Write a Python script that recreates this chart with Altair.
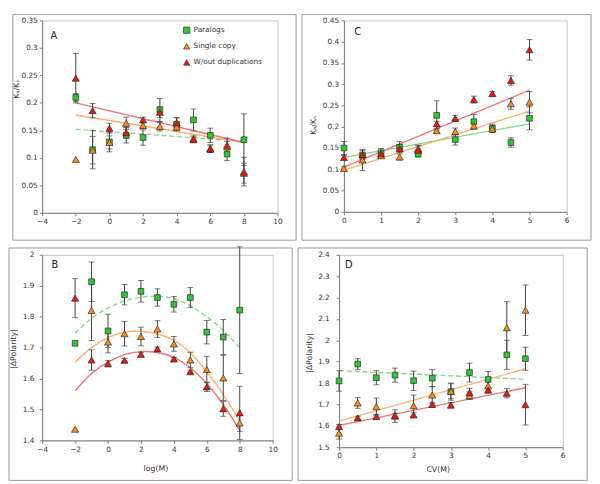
import altair as alt
import pandas as pd

SERIES = ["Paralogs", "Single copy", "W/out duplications"]
MARK_FILL = ["#33c433", "#ff8c1a", "#e8180c"]
MARK_SHAPE = ["square", "triangle-up", "triangle-up"]
FIT_COLOR = ["#86d886", "#ffb070", "#f27474"]
FONT = "DejaVu Sans"
TXT = "#333333"
AXC = "#7a7a7a"
ERRC = "#404040"
FRAMEC = "#9a9a9a"

# ---------------- Panel A : Ka/Ks vs log(M) ----------------
A_x = [-2, -1, 0, 1, 2, 3, 4, 5, 6, 7, 8]
A_par = [0.210, 0.115, 0.129, 0.141, 0.137, 0.187, 0.161, 0.169, 0.141, 0.107, 0.133]
A_par_err = [0.007, 0.035, 0.018, 0.014, 0.014, 0.021, 0.012, 0.020, 0.013, 0.012, 0.047]
A_sin = [0.097, 0.114, 0.128, 0.163, 0.159, 0.157, 0.156, 0.135, 0.117, 0.120, 0.075]
A_sin_err = [0.0, 0.025, 0.012, 0.011, 0.006, 0.008, 0.006, 0.005, 0.007, 0.010, 0.026]
A_wo = [0.245, 0.186, 0.154, 0.146, 0.169, 0.183, 0.164, 0.133, 0.116, 0.123, 0.072]
A_wo_err = [0.045, 0.013, 0.009, 0.010, 0.005, 0.010, 0.009, 0.005, 0.006, 0.013, 0.018]
A_fit_x = [-2, 8]
A_fit_par = [0.152, 0.130]
A_fit_sin = [0.178, 0.128]
A_fit_wo = [0.200, 0.128]

# ---------------- Panel B : |dPolarity| vs log(M) ----------------
B_x = [-2, -1, 0, 1, 2, 3, 4, 5, 6, 7, 8]
B_par = [1.714, 1.913, 1.754, 1.871, 1.882, 1.862, 1.840, 1.862, 1.750, 1.734, 1.821]
B_par_err = [0.0, 0.064, 0.054, 0.033, 0.035, 0.028, 0.025, 0.032, 0.038, 0.057, 0.205]
B_sin = [1.436, 1.820, 1.718, 1.745, 1.736, 1.760, 1.712, 1.660, 1.629, 1.602, 1.456]
B_sin_err = [0.0, 0.097, 0.035, 0.040, 0.030, 0.027, 0.024, 0.025, 0.043, 0.073, 0.027]
B_wo = [1.860, 1.660, 1.648, 1.659, 1.678, 1.696, 1.663, 1.622, 1.573, 1.502, 1.489]
B_wo_err = [0.063, 0.033, 0.010, 0.006, 0.006, 0.006, 0.005, 0.005, 0.015, 0.024, 0.086]
B_fit_x = [-2, -1, 0, 1, 2, 3, 4, 5, 6, 7, 8]
B_fit_par = [1.747, 1.795, 1.828, 1.851, 1.863, 1.866, 1.858, 1.835, 1.800, 1.755, 1.700]
B_fit_sin = [1.653, 1.700, 1.732, 1.750, 1.753, 1.744, 1.724, 1.683, 1.622, 1.549, 1.462]
B_fit_wo = [1.560, 1.616, 1.653, 1.677, 1.687, 1.684, 1.668, 1.635, 1.584, 1.516, 1.432]

# ---------------- Panel C : Ka/Ks vs CV(M) ----------------
C_x = [0, 0.5, 1, 1.5, 2, 2.5, 3, 3.5, 4, 4.5, 5]
C_par = [0.150, 0.133, 0.139, 0.152, 0.136, 0.227, 0.170, 0.212, 0.196, 0.163, 0.220]
C_par_err = [0.015, 0.010, 0.010, 0.013, 0.007, 0.034, 0.013, 0.017, 0.010, 0.011, 0.027]
C_sin = [0.102, 0.122, 0.132, 0.129, 0.149, 0.191, 0.189, 0.202, 0.195, 0.254, 0.258]
C_sin_err = [0.004, 0.025, 0.006, 0.007, 0.008, 0.005, 0.008, 0.007, 0.008, 0.013, 0.025]
C_wo = [0.128, 0.135, 0.137, 0.149, 0.145, 0.207, 0.220, 0.264, 0.278, 0.309, 0.381]
C_wo_err = [0.005, 0.010, 0.006, 0.008, 0.010, 0.006, 0.007, 0.008, 0.005, 0.011, 0.024]
C_fit_x = [0, 5]
C_fit_par = [0.128, 0.207]
C_fit_sin = [0.098, 0.237]
C_fit_wo = [0.105, 0.286]

# ---------------- Panel D : |dPolarity| vs CV(M) ----------------
D_x = [0, 0.5, 1, 1.5, 2, 2.5, 3, 3.5, 4, 4.5, 5]
D_par = [1.810, 1.889, 1.825, 1.837, 1.811, 1.823, 1.760, 1.849, 1.817, 1.932, 1.914]
D_par_err = [0.048, 0.025, 0.033, 0.033, 0.045, 0.040, 0.040, 0.044, 0.037, 0.068, 0.054]
D_sin = [1.566, 1.707, 1.690, 1.645, 1.694, 1.744, 1.762, 1.741, 1.787, 2.059, 2.141]
D_sin_err = [0.028, 0.025, 0.040, 0.030, 0.050, 0.040, 0.035, 0.018, 0.020, 0.122, 0.118]
D_wo = [1.596, 1.637, 1.643, 1.649, 1.651, 1.700, 1.697, 1.756, 1.767, 1.753, 1.699]
D_wo_err = [0.010, 0.008, 0.010, 0.010, 0.010, 0.010, 0.012, 0.020, 0.010, 0.022, 0.095]
D_fit_x = [0, 5]
D_fit_par = [1.858, 1.818]
D_fit_sin = [1.622, 1.867]
D_fit_wo = [1.602, 1.778]

AB_ticks = [-4, -2, 0, 2, 4, 6, 8, 10]
CD_ticks = [0, 1, 2, 3, 4, 5, 6]
A_yticks = [0, 0.05, 0.1, 0.15, 0.2, 0.25, 0.3, 0.35]
C_yticks = [0, 0.05, 0.1, 0.15, 0.2, 0.25, 0.3, 0.35, 0.4, 0.45]
B_yticks = [1.4, 1.5, 1.6, 1.7, 1.8, 1.9, 2.0]
D_yticks = [1.5, 1.6, 1.7, 1.8, 1.9, 2.0, 2.1, 2.2, 2.3, 2.4]


def points_df(xs, vals, errs):
    rows = []
    for s, v, e in zip(SERIES, vals, errs):
        for x, y, err in zip(xs, v, e):
            rows.append({"x": x, "y": y, "err": err, "series": s})
    return pd.DataFrame(rows)


def fit_df(xs, fits):
    rows = []
    for s, v in zip(SERIES, fits):
        for x, y in zip(xs, v):
            rows.append({"x": x, "y": y, "series": s})
    return pd.DataFrame(rows)


def panel(pts, fits, dashes, interp, xdom, xticks, ydom, yticks, width, height,
          frame, letter, letter_xy, ytitle, ytitle_xy, label_pad, xtitle=None,
          xtitle_xy=None, show_legend=False):
    xscale = alt.Scale(domain=xdom, nice=False, zero=False)
    yscale = alt.Scale(domain=ydom, nice=False, zero=False)
    xkw = dict(values=xticks, format="~f", grid=False, domainColor=AXC, tickColor=AXC,
               tickSize=3, labelPadding=2, labelFont=FONT, labelFontSize=7.5,
               labelColor=TXT, labelFlush=False)
    if xtitle:
        xkw.update(title=xtitle, titleFont=FONT, titleFontSize=8, titleFontWeight="normal",
                   titleColor=TXT, titleX=xtitle_xy[0], titleY=xtitle_xy[1],
                   titleBaseline="middle", titleAlign="center")
    else:
        xkw.update(title=None)
    xaxis = alt.Axis(**xkw)
    yaxis = alt.Axis(values=yticks, format="~f", grid=False, domainColor=AXC, tickColor=AXC,
                     tickSize=3, labelPadding=label_pad, labelFont=FONT, labelFontSize=7.5,
                     labelColor=TXT, labelFlush=False, title=ytitle, titleFont=FONT,
                     titleFontSize=8, titleFontWeight="normal", titleColor=TXT,
                     titleAngle=270, titleBaseline="middle", titleAlign="center",
                     titleX=ytitle_xy[0], titleY=ytitle_xy[1])

    def X(f):
        return alt.X(f, type="quantitative", scale=xscale, axis=xaxis)

    def Y(f):
        return alt.Y(f, type="quantitative", scale=yscale, axis=yaxis)

    if show_legend:
        leg = alt.Legend(title=None, orient="none", legendX=144, legendY=6,
                         labelFont=FONT, labelFontSize=7.5, labelColor=TXT,
                         symbolSize=42, rowPadding=6.5, labelOffset=3, padding=0,
                         symbolStrokeColor="#3a3a3a", symbolStrokeWidth=0.7)
    else:
        leg = None

    color = alt.Color("series:N", scale=alt.Scale(domain=SERIES, range=MARK_FILL), legend=leg)
    shape = alt.Shape("series:N", scale=alt.Scale(domain=SERIES, range=MARK_SHAPE), legend=leg)

    frame_layer = alt.Chart(alt.Data(values=[{"k": 1}])).mark_rect(
        fillOpacity=0, stroke=FRAMEC, strokeWidth=1).encode(
        x=alt.value(frame[0]), x2=alt.value(frame[1]),
        y=alt.value(frame[2]), y2=alt.value(frame[3]))

    layers = [frame_layer]
    for s, col, dash in zip(SERIES, FIT_COLOR, dashes):
        mk = dict(color=col, strokeWidth=1.4, interpolate=interp)
        if dash:
            mk["strokeDash"] = [5, 3]
        layers.append(alt.Chart(fits).transform_filter(alt.datum.series == s)
                      .mark_line(**mk).encode(x=X("x"), y=Y("y")))

    ebase = alt.Chart(pts).transform_filter("datum.err > 0").transform_calculate(
        lo="datum.y - datum.err", hi="datum.y + datum.err")
    layers.append(ebase.mark_rule(color=ERRC, strokeWidth=1).encode(
        x=X("x"), y=Y("lo"), y2="hi:Q"))
    layers.append(ebase.mark_tick(orient="horizontal", color=ERRC, size=6, thickness=1).encode(
        x=X("x"), y=Y("lo")))
    layers.append(ebase.mark_tick(orient="horizontal", color=ERRC, size=6, thickness=1).encode(
        x=X("x"), y=Y("hi")))

    layers.append(alt.Chart(pts).transform_filter(alt.datum.series == SERIES[0])
                  .mark_point(filled=True, size=34, opacity=1, stroke="#2a2a2a", strokeWidth=0.7)
                  .encode(x=X("x"), y=Y("y"), color=color, shape=shape))
    layers.append(alt.Chart(pts).transform_filter(alt.datum.series != SERIES[0])
                  .mark_point(filled=True, size=52, opacity=1, stroke="#2a2a2a", strokeWidth=0.7)
                  .encode(x=X("x"), y=Y("y"), color=color, shape=shape))

    layers.append(alt.Chart(alt.Data(values=[{"k": 1}])).mark_text(
        font=FONT, fontSize=10, color="#222222", align="center", baseline="middle").encode(
        x=alt.value(letter_xy[0]), y=alt.value(letter_xy[1]), text=alt.value(letter)))

    return alt.layer(*layers).properties(width=width, height=height)


KAKS = "K\u2090/K\u209b"
POL = "|\u0394Polarity|"

pA = panel(points_df(A_x, [A_par, A_sin, A_wo], [A_par_err, A_sin_err, A_wo_err]),
           fit_df(A_fit_x, [A_fit_par, A_fit_sin, A_fit_wo]), [True, False, False], "linear",
           [-4, 10], AB_ticks, [0, 0.35], A_yticks, 241, 197,
           (-30, 260, -6, 225), "A", (12, 16), KAKS, (-26, 70), 2, show_legend=True)

pC = panel(points_df(C_x, [C_par, C_sin, C_wo], [C_par_err, C_sin_err, C_wo_err]),
           fit_df(C_fit_x, [C_fit_par, C_fit_sin, C_fit_wo]), [False, False, False], "linear",
           [0, 6], CD_ticks, [0, 0.45], C_yticks, 228, 196,
           (-43, 253, -6, 225), "C", (14, 12), KAKS, (-31, 107), 2.5)

pB = panel(points_df(B_x, [B_par, B_sin, B_wo], [B_par_err, B_sin_err, B_wo_err]),
           fit_df(B_fit_x, [B_fit_par, B_fit_sin, B_fit_wo]), [True, False, False], "natural",
           [-4, 10], AB_ticks, [1.4, 2.0], B_yticks, 236, 190,
           (-34, 256, -7, 231), "B", (13, 11), POL, (-29, 96), 5.5,
           xtitle="log(M)", xtitle_xy=(116, 29))

pD = panel(points_df(D_x, [D_par, D_sin, D_wo], [D_par_err, D_sin_err, D_wo_err]),
           fit_df(D_fit_x, [D_fit_par, D_fit_sin, D_fit_wo]), [True, False, False], "linear",
           [0, 6], CD_ticks, [1.5, 2.4], D_yticks, 229, 197,
           (-42, 254, -7, 231), "D", (10, 11), POL, (-30, 100), 7,
           xtitle="CV(M)", xtitle_xy=(101, 23))

top = alt.hconcat(pA, pC, spacing=4).resolve_scale(color="independent", shape="independent")
bottom = alt.hconcat(pB, pD, spacing=4).resolve_scale(color="independent", shape="independent")

chart = (alt.vconcat(top, bottom, spacing=4)
         .resolve_scale(color="independent", shape="independent")
         .properties(padding=0, background="white")
         .configure_view(stroke="#c4c4c4", strokeWidth=1))

chart.save("out.html", embed_options={"renderer": "svg", "actions": False})
